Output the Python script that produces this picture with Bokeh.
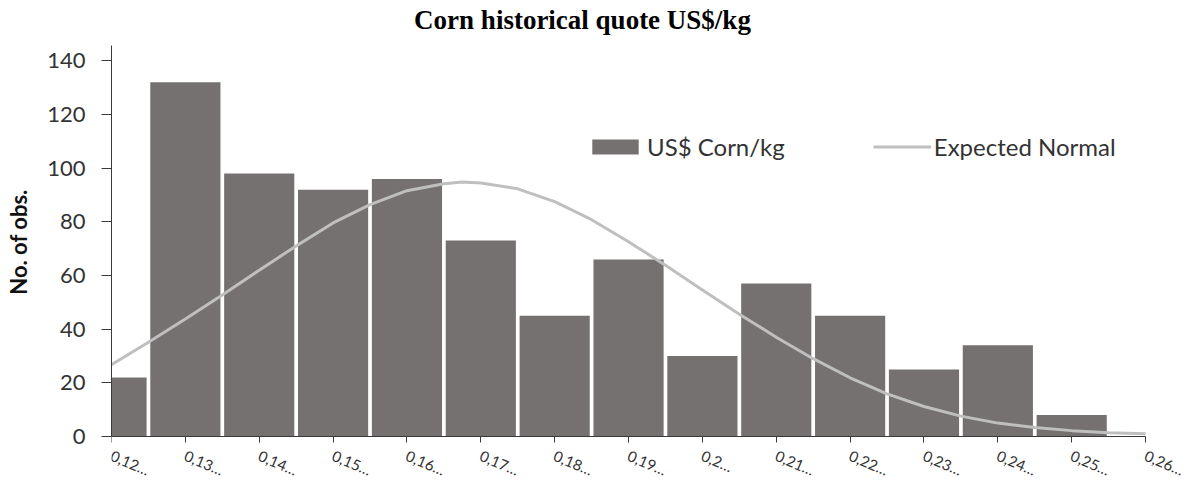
from bokeh.plotting import figure
from bokeh.models import FixedTicker, Range1d, Legend, LegendItem, Label
from bokeh.embed import file_html
from bokeh.resources import INLINE

# ---- data ----
bin_centers = [0.12, 0.13, 0.14, 0.15, 0.16, 0.17, 0.18, 0.19, 0.20, 0.21, 0.22, 0.23, 0.24, 0.25]
counts = [22, 132, 98, 92, 96, 73, 45, 66, 30, 57, 45, 25, 34, 8]

tick_values = [0.12, 0.13, 0.14, 0.15, 0.16, 0.17, 0.18, 0.19, 0.20, 0.21, 0.22, 0.23, 0.24, 0.25, 0.26]
tick_labels = ["0,12…", "0,13…", "0,14…", "0,15…", "0,16…", "0,17…", "0,18…", "0,19…",
               "0,2…", "0,21…", "0,22…", "0,23…", "0,24…", "0,25…", "0,26…"]
y_ticks = [0, 20, 40, 60, 80, 100, 120, 140]

normal_x = [0.120, 0.125, 0.130, 0.135, 0.140, 0.145, 0.150, 0.155, 0.160, 0.165, 0.1675, 0.170,
            0.175, 0.180, 0.185, 0.190, 0.195, 0.200, 0.205, 0.210, 0.215, 0.220, 0.225,
            0.230, 0.235, 0.240, 0.245, 0.250, 0.255, 0.260]
normal_y = [26.8, 35.1, 43.8, 52.7, 62.0, 71.0, 79.6, 86.4, 91.6, 94.2, 94.8, 94.5,
            92.3, 87.5, 80.8, 72.6, 63.8, 54.6, 45.6, 37.0, 29.0, 21.9, 15.9,
            11.2, 7.6, 5.0, 3.4, 2.2, 1.4, 1.0]

title_text = "Corn historical quote US$/kg"
y_label = "No. of obs."
bar_label = "US$ Corn/kg"
line_label = "Expected Normal"

X_MIN, X_MAX = 0.12, 0.26
Y_MIN, Y_MAX = 0, 145.7

BAR_COLOR = "#767171"
LINE_COLOR = "#BFBFBF"
TEXT_COLOR = "#333333"
AXIS_COLOR = "#3a3a3a"
FONT = "Lato"

# frame spans the canvas below the title area and to the right edge; axes are bounded
p = figure(width=1195, height=483, output_backend="svg", toolbar_location=None,
           x_range=Range1d(X_MIN, 0.26676), y_range=Range1d(-17.5, 162.47),
           min_border_left=111, min_border_right=0, min_border_top=0, min_border_bottom=0)

bars = p.vbar(x=bin_centers, top=counts, width=0.0095, fill_color=BAR_COLOR, line_color=None)
curve = p.line(x=normal_x, y=normal_y, line_color=LINE_COLOR, line_width=3, line_join="round")

p.xgrid.visible = False
p.ygrid.visible = False
p.outline_line_color = None
p.background_fill_color = "white"
p.border_fill_color = "white"

xa = p.xaxis[0]
xa.fixed_location = 0
xa.bounds = (X_MIN, X_MAX)
xa.ticker = FixedTicker(ticks=tick_values)
xa.major_label_overrides = {v: s for v, s in zip(tick_values, tick_labels)}
xa.major_label_orientation = -0.40
xa.major_label_text_font = FONT
xa.major_label_text_font_size = "15px"
xa.major_label_text_color = TEXT_COLOR
xa.major_label_standoff = 12
xa.major_tick_out = 6
xa.major_tick_in = 0
xa.minor_tick_line_color = None
xa.axis_line_color = AXIS_COLOR
xa.major_tick_line_color = AXIS_COLOR

ya = p.yaxis[0]
ya.bounds = (Y_MIN, Y_MAX)
ya.ticker = FixedTicker(ticks=y_ticks)
ya.major_label_text_font = FONT
ya.major_label_text_font_size = "22px"
ya.major_label_text_color = TEXT_COLOR
ya.major_label_standoff = 16
ya.major_tick_out = 10
ya.major_tick_in = 0
ya.minor_tick_line_color = None
ya.axis_line_color = AXIS_COLOR
ya.major_tick_line_color = AXIS_COLOR
ya.axis_label = y_label
ya.axis_label_text_font = FONT
ya.axis_label_text_font_style = "bold"
ya.axis_label_text_font_size = "22px"
ya.axis_label_text_color = "#111111"
ya.axis_label_standoff = 12

title = Label(x=471, y=464, x_units="screen", y_units="screen", text=title_text,
              text_font="Liberation Serif", text_font_style="bold", text_font_size="27px",
              text_color="#000000", text_align="center", text_baseline="middle")
p.add_layout(title)

legend = Legend(items=[LegendItem(label=bar_label, renderers=[bars]),
                       LegendItem(label=line_label, renderers=[curve])],
                location=(475, 322), orientation="horizontal",
                glyph_width=58, glyph_height=19, spacing=88, label_standoff=3,
                padding=0, margin=0, border_line_color=None, background_fill_alpha=0,
                label_text_font=FONT, label_text_font_size="24px", label_text_color=TEXT_COLOR)
p.add_layout(legend, "center")

open("out.html", "w").write(file_html(p, INLINE))
